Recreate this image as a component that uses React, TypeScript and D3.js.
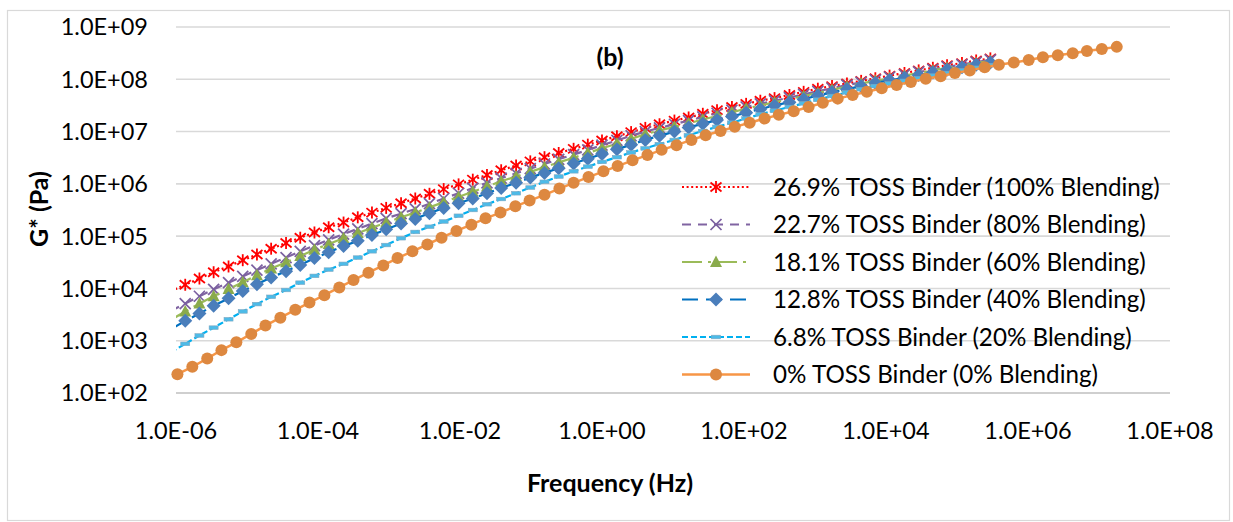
import React from 'react';
import * as d3 from 'd3';

const W = 1233;
const H = 522;

// x tick values (Hz) and y tick values (Pa)
const X_TICKS = [1e-6, 1e-4, 1e-2, 1e0, 1e2, 1e4, 1e6, 1e8];
const Y_TICKS = [1e2, 1e3, 1e4, 1e5, 1e6, 1e7, 1e8, 1e9];

const SERIES_NAMES = [
  '26.9% TOSS Binder (100% Blending)',
  '22.7% TOSS Binder (80% Blending)',
  '18.1% TOSS Binder (60% Blending)',
  '12.8% TOSS Binder (40% Blending)',
  '6.8% TOSS Binder (20% Blending)',
  '0% TOSS Binder (0% Blending)',
];

// log10 of reduced frequency (Hz) for the TOSS blends
const TOSS_LOG_FREQ = [
  -6.07, -5.87, -5.67, -5.47, -5.26, -5.06, -4.86, -4.66, -4.45, -4.25,
  -4.05, -3.85, -3.64, -3.44, -3.24, -3.04, -2.83, -2.63, -2.43, -2.23,
  -2.02, -1.82, -1.62, -1.42, -1.21, -1.01, -0.81, -0.61, -0.40, -0.20,
  0.00, 0.21, 0.41, 0.61, 0.81, 1.02, 1.22, 1.42, 1.62, 1.83,
  2.03, 2.23, 2.43, 2.64, 2.84, 3.04, 3.24, 3.45, 3.65, 3.85,
  4.05, 4.26, 4.46, 4.66, 4.86, 5.07, 5.27, 5.47,
];

// log10 of reduced frequency (Hz) for the base binder
const BASE_LOG_FREQ = [
  -5.98, -5.77, -5.56, -5.36, -5.15, -4.94, -4.74, -4.53, -4.32, -4.12,
  -3.91, -3.70, -3.50, -3.29, -3.08, -2.88, -2.67, -2.46, -2.26, -2.05,
  -1.84, -1.64, -1.43, -1.22, -1.02, -0.81, -0.60, -0.40, -0.19, 0.02,
  0.22, 0.43, 0.64, 0.84, 1.05, 1.26, 1.46, 1.67, 1.87, 2.08,
  2.29, 2.49, 2.70, 2.91, 3.11, 3.32, 3.53, 3.73, 3.94, 4.15,
  4.35, 4.56, 4.77, 4.97, 5.18, 5.39, 5.59, 5.80, 6.01, 6.21,
  6.42, 6.63, 6.83, 7.04, 7.25,
];

// log10 G* (Pa)
const G_TOSS_26_9 = [
  3.95, 4.07, 4.19, 4.31, 4.42, 4.54, 4.65, 4.76, 4.87, 4.97,
  5.07, 5.17, 5.26, 5.36, 5.45, 5.54, 5.63, 5.72, 5.81, 5.90,
  5.99, 6.08, 6.17, 6.26, 6.35, 6.43, 6.51, 6.59, 6.67, 6.75,
  6.83, 6.91, 6.99, 7.07, 7.14, 7.21, 7.27, 7.34, 7.41, 7.47,
  7.53, 7.59, 7.64, 7.70, 7.76, 7.82, 7.87, 7.92, 7.97, 8.02,
  8.07, 8.12, 8.17, 8.22, 8.27, 8.31, 8.36, 8.40,
];
const G_TOSS_22_7 = [
  3.57, 3.71, 3.85, 3.98, 4.11, 4.23, 4.35, 4.47, 4.59, 4.71,
  4.82, 4.93, 5.04, 5.14, 5.24, 5.34, 5.43, 5.52, 5.62, 5.72,
  5.82, 5.92, 6.02, 6.11, 6.20, 6.29, 6.38, 6.47, 6.56, 6.65,
  6.74, 6.83, 6.92, 7.00, 7.07, 7.14, 7.21, 7.28, 7.35, 7.41,
  7.47, 7.53, 7.59, 7.65, 7.71, 7.77, 7.83, 7.89, 7.94, 7.99,
  8.04, 8.09, 8.14, 8.19, 8.24, 8.28, 8.33, 8.37,
];
const G_TOSS_18_1 = [
  3.40, 3.56, 3.71, 3.85, 3.99, 4.12, 4.25, 4.38, 4.50, 4.62,
  4.74, 4.85, 4.96, 5.06, 5.16, 5.26, 5.36, 5.45, 5.55, 5.65,
  5.75, 5.85, 5.95, 6.05, 6.14, 6.23, 6.32, 6.41, 6.50, 6.59,
  6.68, 6.77, 6.86, 6.95, 7.02, 7.09, 7.16, 7.23, 7.30, 7.37,
  7.44, 7.50, 7.56, 7.62, 7.68, 7.74, 7.80, 7.86, 7.92, 7.97,
  8.02, 8.07, 8.12, 8.17, 8.22, 8.26, 8.31, 8.35,
];
const G_TOSS_12_8 = [
  3.22, 3.38, 3.52, 3.67, 3.81, 3.95, 4.08, 4.21, 4.33, 4.45,
  4.58, 4.69, 4.81, 4.91, 5.02, 5.13, 5.24, 5.33, 5.44, 5.54,
  5.63, 5.72, 5.82, 5.92, 6.02, 6.12, 6.21, 6.30, 6.39, 6.48,
  6.57, 6.66, 6.75, 6.84, 6.92, 7.00, 7.08, 7.15, 7.22, 7.29,
  7.36, 7.43, 7.50, 7.56, 7.62, 7.69, 7.75, 7.81, 7.87, 7.93,
  7.98, 8.03, 8.08, 8.13, 8.18, 8.23, 8.28, 8.32,
];
const G_TOSS_6_8 = [
  2.78, 2.94, 3.10, 3.25, 3.41, 3.56, 3.70, 3.84, 3.97, 4.11,
  4.24, 4.36, 4.47, 4.59, 4.71, 4.83, 4.96, 5.08, 5.18, 5.28,
  5.39, 5.50, 5.61, 5.71, 5.82, 5.93, 6.04, 6.14, 6.24, 6.33,
  6.42, 6.51, 6.60, 6.68, 6.76, 6.84, 6.93, 7.01, 7.09, 7.17,
  7.25, 7.33, 7.40, 7.47, 7.54, 7.61, 7.68, 7.75, 7.81, 7.87,
  7.92, 7.97, 8.02, 8.07, 8.12, 8.17, 8.22, 8.27,
];
const G_BASE_0 = [
  2.36, 2.50, 2.66, 2.82, 2.97, 3.13, 3.29, 3.44, 3.59, 3.73,
  3.87, 4.02, 4.16, 4.30, 4.44, 4.58, 4.71, 4.84, 4.97, 5.10,
  5.22, 5.34, 5.45, 5.57, 5.68, 5.79, 5.91, 6.02, 6.13, 6.24,
  6.34, 6.45, 6.55, 6.65, 6.74, 6.84, 6.93, 7.01, 7.09, 7.17,
  7.25, 7.32, 7.39, 7.47, 7.55, 7.63, 7.70, 7.76, 7.83, 7.89,
  7.95, 8.01, 8.06, 8.12, 8.17, 8.23, 8.28, 8.32, 8.37, 8.42,
  8.46, 8.50, 8.54, 8.58, 8.62,
];

type MarkerKind = 'star' | 'x' | 'triangle' | 'diamond' | 'dash' | 'circle';

interface SeriesStyle {
  name: string;
  freq: number[];
  g: number[];
  line: string;
  marker: string;
  dash: string;
  width: number;
  kind: MarkerKind;
}

const STYLES: SeriesStyle[] = [
  { name: SERIES_NAMES[0], freq: TOSS_LOG_FREQ, g: G_TOSS_26_9, line: '#ff0000', marker: '#ff0000', dash: '2 2.6', width: 2.2, kind: 'star' },
  { name: SERIES_NAMES[1], freq: TOSS_LOG_FREQ, g: G_TOSS_22_7, line: '#8064a2', marker: '#7a5fa0', dash: '9 7', width: 2.2, kind: 'x' },
  { name: SERIES_NAMES[2], freq: TOSS_LOG_FREQ, g: G_TOSS_18_1, line: '#9bbb59', marker: '#8aab4c', dash: '20 6 3 6', width: 2.2, kind: 'triangle' },
  { name: SERIES_NAMES[3], freq: TOSS_LOG_FREQ, g: G_TOSS_12_8, line: '#0070c0', marker: '#4a7ebb', dash: '16 8', width: 2.2, kind: 'diamond' },
  { name: SERIES_NAMES[4], freq: TOSS_LOG_FREQ, g: G_TOSS_6_8, line: '#00b0f0', marker: '#4dbbe8', dash: '6 3', width: 2.2, kind: 'dash' },
  { name: SERIES_NAMES[5], freq: BASE_LOG_FREQ, g: G_BASE_0, line: '#f79646', marker: '#dd8840', dash: '', width: 2.5, kind: 'circle' },
];

const FONT = "Lato, 'Open Sans', 'Liberation Sans', sans-serif";

function fmtExp(v: number): string {
  const e = Math.round(Math.log10(v));
  const sign = e < 0 ? '-' : '+';
  return `1.0E${sign}${String(Math.abs(e)).padStart(2, '0')}`;
}

function Marker({ kind, x, y, color }: { kind: MarkerKind; x: number; y: number; color: string }) {
  switch (kind) {
    case 'star':
      return (
        <g stroke={color} strokeWidth={1.8} fill="none">
          <line x1={x} y1={y - 6} x2={x} y2={y + 6} />
          <line x1={x - 5.5} x2={x + 5.5} y1={y - 4.5} y2={y + 4.5} />
          <line x1={x - 5.5} x2={x + 5.5} y1={y + 4.5} y2={y - 4.5} />
        </g>
      );
    case 'x':
      return (
        <g stroke={color} strokeWidth={1.7} fill="none">
          <line x1={x - 5.5} y1={y - 5.5} x2={x + 5.5} y2={y + 5.5} />
          <line x1={x - 5.5} y1={y + 5.5} x2={x + 5.5} y2={y - 5.5} />
        </g>
      );
    case 'triangle':
      return <path d={`M${x},${y - 6.5}L${x + 6},${y + 5}L${x - 6},${y + 5}Z`} fill={color} />;
    case 'diamond':
      return <path d={`M${x},${y - 7}L${x + 7},${y}L${x},${y + 7}L${x - 7},${y}Z`} fill={color} />;
    case 'dash':
      return <rect x={x - 4.5} y={y - 1.8} width={9} height={3.6} fill={color} stroke="#7fa7c0" strokeWidth={0.6} />;
    case 'circle':
    default:
      return <circle cx={x} cy={y} r={6} fill={color} />;
  }
}

export default function App() {
  const left = 176;
  const right = 1170;
  const top = 27;
  const bottom = 393;

  const x = d3.scaleLog().domain([1e-6, 1e8]).range([left, right]);
  const y = d3.scaleLog().domain([1e2, 1e9]).range([bottom, top]);

  const lineGen = d3
    .line<[number, number]>()
    .x((d) => x(Math.pow(10, d[0])))
    .y((d) => y(Math.pow(10, d[1])));

  const legendX0 = 682;
  const legendX1 = 750;
  const legendTextX = 773;
  const legendY0 = 187;
  const legendStep = 37.5;

  return (
    <svg
      width={W}
      height={H}
      viewBox={`0 0 ${W} ${H}`}
      style={{ position: 'absolute', left: 0, top: 0, background: '#fff' }}
      fontFamily={FONT}
    >
      <defs>
        <clipPath id="plotClip">
          <rect x={left} y={top - 10} width={right - left} height={bottom - top + 12} />
        </clipPath>
      </defs>
      <rect x={0} y={0} width={W} height={H} fill="#fff" />
      <rect x={7.5} y={10.5} width={1222} height={510} fill="none" stroke="#d9d9d9" strokeWidth={1.2} />

      {/* gridlines */}
      {Y_TICKS.map((t) => (
        <line
          key={`g${t}`}
          x1={left}
          x2={right}
          y1={y(t)}
          y2={y(t)}
          stroke={t === 1e2 ? '#bfbfbf' : '#d9d9d9'}
          strokeWidth={1.6}
        />
      ))}

      {/* y tick labels */}
      {Y_TICKS.map((t) => (
        <text key={`yl${t}`} x={148} y={y(t)} dy="0.36em" textAnchor="end" fontSize={23.5} fill="#000">
          {fmtExp(t)}
        </text>
      ))}

      {/* x tick labels */}
      {X_TICKS.map((t) => (
        <text key={`xl${t}`} x={x(t)} y={439} textAnchor="middle" fontSize={23.5} fill="#000">
          {fmtExp(t)}
        </text>
      ))}

      {/* series */}
      {STYLES.map((s, si) => {
        const pts: [number, number][] = s.freq.map((f, i) => [f, s.g[i]]);
        return (
          <g key={`s${si}`}>
            <path
              d={lineGen(pts) || ''}
              fill="none"
              stroke={s.line}
              strokeWidth={s.width}
              strokeDasharray={s.dash || undefined}
              clipPath="url(#plotClip)"
            />
            {pts
              .filter((p) => p[0] >= -6)
              .map((p, i) => (
                <Marker
                  key={i}
                  kind={s.kind}
                  x={x(Math.pow(10, p[0]))}
                  y={y(Math.pow(10, p[1]))}
                  color={s.marker}
                />
              ))}
          </g>
        );
      })}

      {/* legend */}
      {STYLES.map((s, i) => {
        const ly = legendY0 + i * legendStep;
        const mx = (legendX0 + legendX1) / 2;
        return (
          <g key={`lg${i}`}>
            <line
              x1={legendX0}
              x2={legendX1}
              y1={ly}
              y2={ly}
              stroke={s.line}
              strokeWidth={s.width}
              strokeDasharray={s.dash || undefined}
            />
            <Marker kind={s.kind} x={mx} y={ly} color={s.marker} />
            <text x={legendTextX} y={ly} dy="0.36em" fontSize={24.2} fill="#000">
              {s.name}
            </text>
          </g>
        );
      })}

      {/* titles */}
      <text x={610} y={66} textAnchor="middle" fontSize={25} fontWeight="bold" fill="#000">
        (b)
      </text>
      <text x={610} y={492} textAnchor="middle" fontSize={25} fontWeight="bold" fill="#000">
        Frequency (Hz)
      </text>
      <text
        transform={`translate(48,209) rotate(-90)`}
        textAnchor="middle"
        fontSize={25}
        fontWeight="bold"
        fill="#000"
      >
        G* (Pa)
      </text>
    </svg>
  );
}
